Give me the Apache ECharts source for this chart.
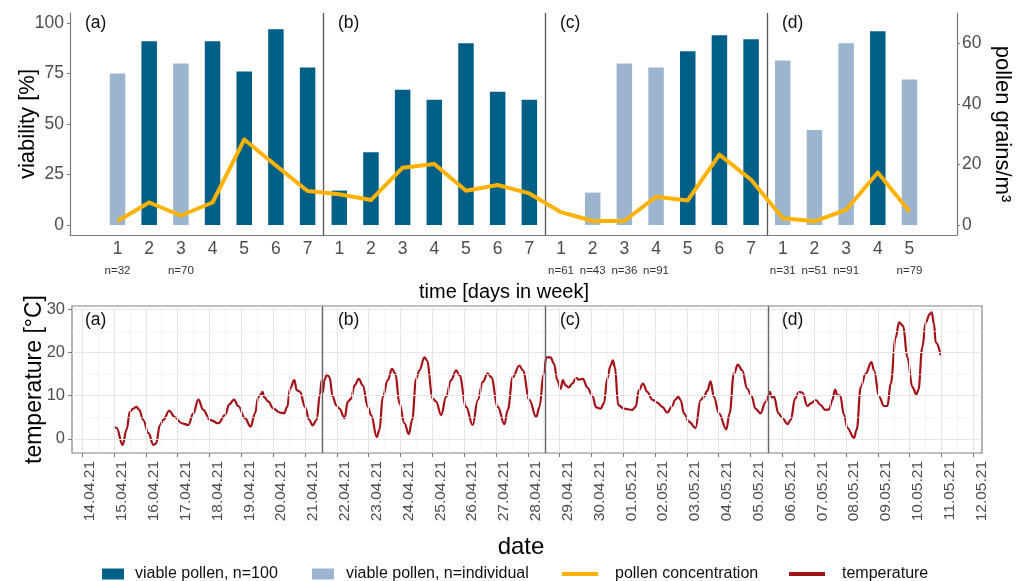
<!DOCTYPE html>
<html>
<head>
<meta charset="utf-8">
<script src="https://cdn.jsdelivr.net/npm/echarts@6/dist/echarts.min.js"></script>
<style>
html,body{margin:0;padding:0;background:#fff;}
#chart{width:1016px;height:581px;}
</style>
</head>
<body>
<div id="chart"></div>
<script>
// ---------- DATA ----------
const dayLabels = ['1','2','3','4','5','6','7','1','2','3','4','5','6','7','1','2','3','4','5','6','7','1','2','3','4','5'];
const sampleN = ['n=32','','n=70','','','','', '','','','','','','', 'n=61','n=43','n=36','n=91','','','', 'n=31','n=51','n=91','','n=79'];
const viable100 = [null,91,null,91,76,97,78, 17,36,67,62,90,66,62, null,null,null,null,86,94,92, null,null,null,96,null];
const viableIndividual = [75,null,80,null,null,null,null, null,null,null,null,null,null,null, null,16,80,78,null,null,null, 81.5,47,90,null,72];
const pollenConc = [1.3,7.4,3.1,7.4,28.2,19.6,11.2, 10.1,8.2,18.9,20.1,11.3,13.2,10.4, 4.2,1.3,1.3,9.3,8.1,23.2,14.9, 2.2,1.2,5.0,17.3,4.4];
const weekLabels = ['(a)','(b)','(c)','(d)'];
const weekBreakIdx = [6.5, 13.5, 20.5];
const weekBreakTime = ['04-21 13:00','04-28 13:00','05-05 13:20'];
const viabTicks = [0,25,50,75,100];
const pollenTicks = [0,20,40,60];
const tempTicks = [0,10,20,30];
const tempMinor = [5,15,25];
const dateTicks = ['14.04.21','15.04.21','16.04.21','17.04.21','18.04.21','19.04.21','20.04.21','21.04.21','22.04.21','23.04.21','24.04.21','25.04.21','26.04.21','27.04.21','28.04.21','29.04.21','30.04.21','01.05.21','02.05.21','03.05.21','04.05.21','05.05.21','06.05.21','07.05.21','08.05.21','09.05.21','10.05.21','11.05.21','12.05.21'];
const tempTime = [
'04-15 00:00','04-15 02:00','04-15 06:30','04-15 09:30','04-15 12:00','04-15 14:30','04-15 17:00','04-15 19:00','04-15 22:00',
'04-16 02:00','04-16 05:40','04-16 07:40','04-16 10:40','04-16 13:10','04-16 17:40','04-16 22:00',
'04-17 03:00','04-17 08:00','04-17 11:50','04-17 15:35','04-17 19:20',
'04-18 00:20','04-18 06:40','04-18 11:40','04-18 15:00','04-18 18:30','04-18 21:40',
'04-19 02:45','04-19 07:00','04-19 10:20','04-19 12:50','04-19 14:05','04-19 16:05','04-19 17:05','04-19 20:25',
'04-20 00:05','04-20 05:05','04-20 08:10','04-20 10:40','04-20 12:40','04-20 16:00','04-20 17:45','04-20 20:15',
'04-21 00:00','04-21 03:15','04-21 05:45','04-21 08:50','04-21 11:20','04-21 12:35','04-21 13:30','04-21 14:40','04-21 16:30','04-21 18:30','04-21 21:00','04-21 23:30',
'04-22 02:00','04-22 05:50','04-22 08:20','04-22 10:50','04-22 13:20','04-22 16:35','04-22 19:35','04-22 23:25',
'04-23 01:55','04-23 06:10','04-23 08:10','04-23 10:40','04-23 14:25','04-23 17:40','04-23 20:10','04-23 23:15',
'04-24 03:00','04-24 06:20','04-24 08:50','04-24 11:50','04-24 14:20','04-24 18:05','04-24 19:50',
'04-25 00:25','04-25 02:55','04-25 06:40','04-25 10:25','04-25 14:10','04-25 18:00','04-25 20:30',
'04-26 01:30','04-26 06:30','04-26 10:20','04-26 14:05','04-26 17:50','04-26 20:25',
'04-27 01:25','04-27 06:25','04-27 08:55','04-27 12:40','04-27 17:40','04-27 20:15',
'04-28 01:15','04-28 06:20','04-28 08:50','04-28 12:00','04-28 14:00','04-28 17:10','04-28 19:45','04-28 22:15',
'04-29 00:45','04-29 02:30','04-29 04:30','04-29 07:00','04-29 09:30','04-29 12:35','04-29 14:35','04-29 17:35','04-29 20:55',
'04-30 00:35','04-30 03:35','04-30 06:55','04-30 09:25','04-30 11:55','04-30 14:25','04-30 16:10','04-30 17:40','04-30 20:15',
'05-01 00:30','05-01 06:45','05-01 09:20','05-01 11:50','05-01 14:50','05-01 18:05','05-01 21:50',
'05-02 01:40','05-02 05:25','05-02 09:10','05-02 12:55','05-02 15:00','05-02 17:30','05-02 19:15','05-02 21:45',
'05-03 01:30','05-03 06:30','05-03 10:20','05-03 12:50','05-03 15:20','05-03 17:50','05-03 20:20',
'05-04 00:10','05-04 05:40','05-04 08:10','05-04 11:25','05-04 14:25','05-04 17:40','05-04 21:30',
'05-05 00:45','05-05 03:40','05-05 07:30','05-05 11:15','05-05 13:50','05-05 14:30','05-05 16:00','05-05 17:40','05-05 21:00',
'05-06 00:00','05-06 03:45','05-06 06:20','05-06 09:30','05-06 12:35','05-06 15:05','05-06 18:50','05-06 21:20',
'05-07 01:05','05-07 04:55','05-07 08:10','05-07 11:10','05-07 13:40','05-07 15:40','05-07 17:30','05-07 19:30','05-07 22:30',
'05-08 01:00','05-08 06:00','05-08 08:00','05-08 11:05','05-08 14:50','05-08 19:05','05-08 21:05',
'05-09 00:55','05-09 04:40','05-09 07:10','05-09 09:40','05-09 13:25','05-09 16:00','05-09 19:00','05-09 22:15',
'05-10 02:00','05-10 05:00','05-10 06:30','05-10 09:30','05-10 12:05','05-10 15:05','05-10 16:35','05-10 18:20','05-10 19:35','05-10 23:25'
];
const tempValue = [
2.8,2.5,-1.4,2.1,6.3,7.0,7.4,6.7,4.4,
1.3,-1.4,-1.1,3.2,4.4,6.5,5.0,
3.6,3.2,5.9,9.1,6.7,
4.4,3.6,5.5,8.0,9.1,7.6,
4.8,2.8,5.9,9.7,10.1,10.9,9.7,8.6,
7.0,6.1,5.9,7.4,11.6,13.6,11.3,10.9,
7.4,4.4,3.1,4.4,10.5,13.6,10.8,13.6,14.9,14.3,9.7,7.8,
7.0,4.8,8.6,9.3,12.4,13.9,12.4,7.4,
5.5,0.4,2.1,9.7,13.6,16.2,15.1,8.2,
3.6,1.1,4.4,13.9,15.9,18.9,18.2,
9.3,8.6,5.5,9.7,13.6,15.9,14.7,
7.4,3.2,9.0,13.2,15.2,14.3,
7.4,3.4,6.7,14.3,17.0,15.9,
9.0,5.0,7.4,15.1,18.9,18.9,17.4,13.6,
11.6,13.6,12.4,11.9,12.8,14.1,13.7,13.9,11.9,
10.1,7.3,7.0,8.2,13.9,17.0,18.2,16.6,7.8,
7.0,6.7,7.4,11.3,12.8,10.9,9.1,
8.4,7.4,6.1,7.6,9.0,9.7,9.0,5.9,
4.0,2.5,9.0,9.7,11.1,13.3,9.7,
5.9,2.2,5.9,15.1,17.2,15.9,11.6,
9.9,7.0,5.9,8.5,10.3,10.9,9.6,9.7,5.9,
4.8,3.4,4.4,9.3,10.9,10.7,7.6,8.2,
9.0,7.8,6.7,6.8,9.0,11.4,10.1,10.1,5.5,
2.5,0.2,2.1,12.0,15.1,17.8,15.9,
9.7,7.6,7.6,12.8,23.5,27.0,26.2,18.9,
12.0,10.3,11.3,21.2,27.0,28.9,29.3,26.6,22.4,19.3
];

// ---------- helpers ----------
function tsMD(s){ const [md, hm] = s.split(' '); const [m,d]=md.split('-').map(Number); const [h,mi]=hm.split(':').map(Number); return new Date(2021,m-1,d,h,mi).getTime(); }
function tsDate(s){ const [d,m,y]=s.split('.').map(Number); return new Date(2000+y,m-1,d).getTime(); }
const dayTs = dateTicks.map(tsDate);
const halfTs = dayTs.slice(0,-1).map(t => t + 12*3600*1000);
const tempData = tempTime.map((t,i)=>[tsMD(t), tempValue[i]]);
const idx = dayLabels.map((_, i) => i);

const FONT = '"Liberation Sans", Arial, sans-serif';
const AX = '#7a7a7a';
const GRIDC = '#e6e6e6';
const GRIDMINOR = '#f0f0f0';

const chart = echarts.init(document.getElementById('chart'), null, {renderer:'canvas'});

const gridLines = [];
dayTs.forEach(t => gridLines.push({xAxis: t, lineStyle:{color:GRIDC, width:1.1, type:'solid'}}));
halfTs.forEach(t => gridLines.push({xAxis: t, lineStyle:{color:GRIDMINOR, width:0.7, type:'solid'}}));
tempTicks.forEach(v => gridLines.push({yAxis: v, lineStyle:{color:GRIDC, width:1.1, type:'solid'}}));
tempMinor.forEach(v => gridLines.push({yAxis: v, lineStyle:{color:GRIDMINOR, width:0.7, type:'solid'}}));
const tempDividers = weekBreakTime.map(t => ({xAxis: tsMD(t)}));

const topLabelX = [85, 338, 560, 782];

const option = {
  animation: false,
  textStyle: {fontFamily: FONT},
  grid: [
    {left: 70, right: 59, top: 13, height: 222, outerBoundsMode: 'none', containLabel: false},
    {left: 72, right: 34, top: 306, height: 147, outerBoundsMode: 'none', containLabel: false,
     show: true, borderColor: '#808080', borderWidth: 1.2, backgroundColor: '#fff'}
  ],
  legend: [
    {data:['viable pollen, n=100'], left: 97, top: 561, itemWidth: 22, itemHeight: 11, icon:'rect',
     textStyle:{fontSize:16, color:'#111', padding:[0,0,0,6]}},
    {data:['viable pollen, n=individual'], left: 307, top: 561, itemWidth: 22, itemHeight: 11, icon:'rect',
     textStyle:{fontSize:16, color:'#111', padding:[0,0,0,7]}},
    {data:['pollen concentration'], left: 557, top: 561, itemWidth: 36, itemHeight: 4, icon:'rect',
     textStyle:{fontSize:16, color:'#111', padding:[0,0,0,12]}},
    {data:['temperature'], left: 784, top: 561, itemWidth: 36, itemHeight: 4, icon:'rect',
     textStyle:{fontSize:16, color:'#111', padding:[0,0,0,12]}}
  ],
  xAxis: [
    {type:'value', gridIndex:0, min:-1.5, max:26.5,
     name:'time [days in week]', nameLocation:'middle', nameGap:47, nameMoveOverlap:false,
     nameTextStyle:{fontSize:20, color:'#000', padding:[0,19,0,0]},
     axisLine:{show:true, onZero:false, lineStyle:{color:AX, width:1.2}},
     axisTick:{show:false},
     splitLine:{show:false},
     axisLabel:{customValues: idx, margin:4,
       formatter: v => '{d|' + dayLabels[v] + '}\n{n|' + (sampleN[v] || ' ') + '}',
       rich:{d:{fontSize:17.5, color:'#4d4d4d', lineHeight:20, fontFamily:FONT},
             n:{fontSize:11.5, color:'#333', lineHeight:24, fontFamily:FONT}}}
    },
    {type:'value', gridIndex:1, min: tsMD('04-13 16:20'), max: tsMD('05-12 06:30'),
     name:'date', nameLocation:'middle', nameGap:82, nameMoveOverlap:false,
     nameTextStyle:{fontSize:24, color:'#000', padding:[0,12,0,0]},
     axisLine:{show:false, onZero:false},
     axisTick:{show:true, customValues: dayTs, length:4, lineStyle:{color:AX, width:1.1}},
     splitLine:{show:false},
     axisLabel:{customValues: dayTs, rotate:90, margin:8, verticalAlign:'top',
       fontSize:15.5, color:'#4d4d4d',
       formatter: v => { const i = dayTs.indexOf(v); return i >= 0 ? dateTicks[i] : ''; }}
    }
  ],
  yAxis: [
    {type:'value', gridIndex:0, min:-5, max:105, position:'left',
     name:'viability [%]', nameLocation:'middle', nameGap:31, nameMoveOverlap:false,
     nameTextStyle:{fontSize:22, color:'#000'},
     axisLine:{show:true, onZero:false, lineStyle:{color:AX, width:1.2}},
     axisTick:{show:true, customValues: viabTicks, length:3, lineStyle:{color:AX}},
     splitLine:{show:false},
     axisLabel:{customValues: viabTicks, fontSize:17.5, color:'#4d4d4d', margin:6}
    },
    {type:'value', gridIndex:0, min:-10/3, max:70, position:'right',
     name:'pollen grains/m³', nameLocation:'middle', nameGap:34, nameRotate:-90, nameMoveOverlap:false,
     nameTextStyle:{fontSize:22, color:'#000'},
     axisLine:{show:true, onZero:false, lineStyle:{color:AX, width:1.2}},
     axisTick:{show:true, customValues: pollenTicks, length:3, lineStyle:{color:AX}},
     splitLine:{show:false},
     axisLabel:{customValues: pollenTicks, fontSize:17.5, color:'#4d4d4d', margin:5}
    },
    {type:'value', gridIndex:1, min:-3.3, max:30.8,
     name:'temperature [°C]', nameLocation:'middle', nameGap:26, nameMoveOverlap:false,
     nameTextStyle:{fontSize:23, color:'#000'},
     axisLine:{show:false, onZero:false},
     axisTick:{show:true, customValues: tempTicks, length:4, lineStyle:{color:AX, width:1.1}},
     splitLine:{show:false},
     axisLabel:{customValues: tempTicks, fontSize:16.5, color:'#4d4d4d', margin:7}
    }
  ],
  series: [
    {name:'viable pollen, n=100', type:'bar', xAxisIndex:0, yAxisIndex:0,
     data: viable100.map((v,i)=>[i,v]).filter(d=>d[1]!==null),
     barWidth: 15.5, barGap:'-100%', itemStyle:{color:'#005f87'}, z:2,
     markLine:{silent:true, symbol:'none', label:{show:false},
       lineStyle:{color:'#555', width:1.3, type:'solid'},
       data: weekBreakIdx.map(x=>({xAxis:x}))}
    },
    {name:'viable pollen, n=individual', type:'bar', xAxisIndex:0, yAxisIndex:0,
     data: viableIndividual.map((v,i)=>[i,v]).filter(d=>d[1]!==null),
     barWidth: 15.5, barGap:'-100%', itemStyle:{color:'#9bb5cf'}, z:2},
    {name:'pollen concentration', type:'line', xAxisIndex:0, yAxisIndex:1,
     data: pollenConc.map((v,i)=>[i,v]), symbol:'none',
     lineStyle:{color:'#ffb300', width:4, join:'round'}, itemStyle:{color:'#ffb300'}, z:5},
    {name:'grid', type:'line', xAxisIndex:1, yAxisIndex:2,
     data: [tempData[0]], symbol:'none', silent:true, lineStyle:{opacity:0}, z:1,
     markLine:{silent:true, symbol:'none', label:{show:false}, data: gridLines}},
    {name:'divider', type:'line', xAxisIndex:1, yAxisIndex:2,
     data: [tempData[0]], symbol:'none', silent:true, lineStyle:{opacity:0}, z:2,
     markLine:{silent:true, symbol:'none', label:{show:false},
       lineStyle:{color:'#666', width:1.4, type:'solid'}, data: tempDividers}},
    {name:'temperature', type:'line', xAxisIndex:1, yAxisIndex:2,
     data: tempData, symbol:'none', smooth:0.4, smoothMonotone:'x',
     lineStyle:{color:'#a31016', width:2.2}, itemStyle:{color:'#a31016'}, z:4}
  ],
  graphic: [
    ...weekLabels.map((t,i)=>({type:'text', left: topLabelX[i], top: 14,
      style:{text:t, fontSize:17.5, fill:'#111', fontFamily:FONT}, z:10})),
    ...weekLabels.map((t,i)=>({type:'text', left: topLabelX[i], top: 311,
      style:{text:t, fontSize:17.5, fill:'#111', fontFamily:FONT}, z:10}))
  ]
};
chart.setOption(option);
</script>
</body>
</html>
